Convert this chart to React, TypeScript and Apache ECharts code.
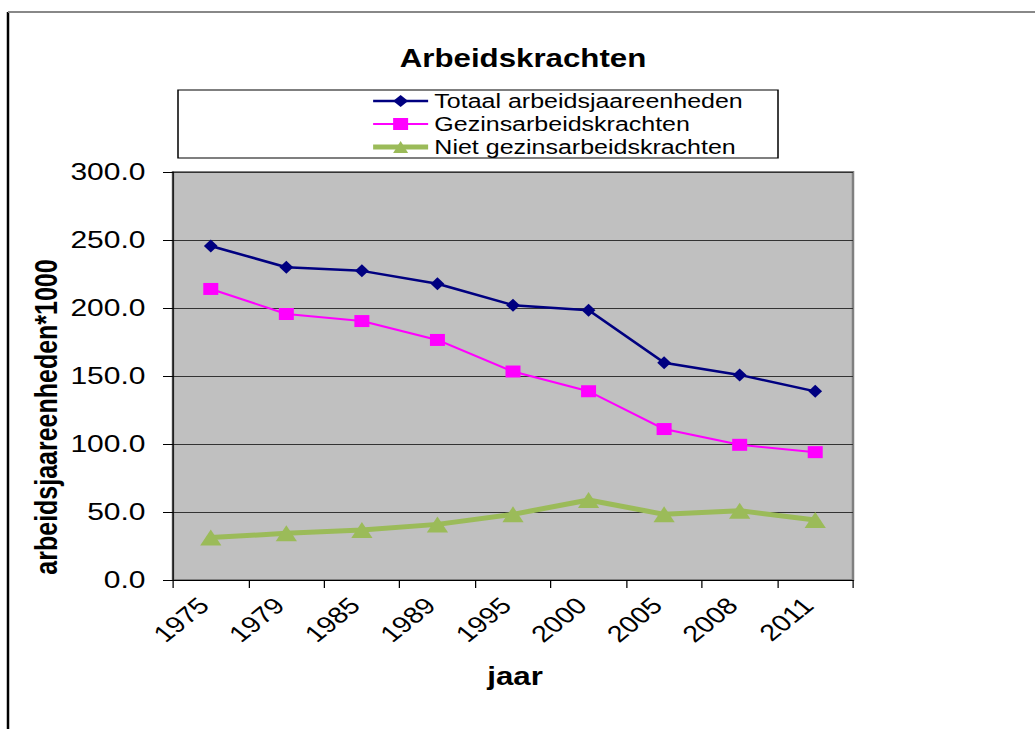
import React, { useEffect, useRef } from "react";
import * as echarts from "echarts";

const years = ["1975", "1979", "1985", "1989", "1995", "2000", "2005", "2008", "2011"];
const totaal = [245.6, 230.0, 227.3, 217.8, 202.1, 198.4, 159.8, 150.8, 138.7];
const gezins = [214.0, 195.6, 190.4, 176.5, 153.3, 138.8, 111.0, 99.4, 94.0];
const niet = [31.2, 34.3, 36.8, 40.9, 48.3, 58.8, 48.3, 51.0, 44.1];
const seriesNames = ["Totaal arbeidsjaareenheden", "Gezinsarbeidskrachten", "Niet gezinsarbeidskrachten"];

const STRETCH = 1.25;
const W = 1035 / STRETCH;
const H = 729;
const FONT = "Liberation Sans, Arial, sans-serif";

export default function App() {
  const ref = useRef<HTMLDivElement>(null);
  useEffect(() => {
    if (!ref.current) return;
    const chart = echarts.init(ref.current, undefined, { renderer: "svg" });
    chart.setOption({
      animation: false,
      backgroundColor: "#ffffff",
      textStyle: { fontFamily: FONT },
      graphic: [
        { type: "line", shape: { x1: 6.4, y1: 12, x2: 6.4, y2: H }, style: { stroke: "#000", lineWidth: 2 } },
        { type: "line", shape: { x1: 6.4, y1: 12, x2: W, y2: 12 }, style: { stroke: "#888", lineWidth: 2 } },
        {
          type: "text", x: 418.4, y: 58,
          style: { text: "Arbeidskrachten", font: `bold 25px ${FONT}`, fill: "#000", textAlign: "center", textVerticalAlign: "middle" },
        },
        {
          type: "rect", shape: { x: 142.4, y: 90, width: 480, height: 68 },
          style: { fill: "none", stroke: "#000", lineWidth: 1.2 },
        },
        {
          type: "text", x: 37, y: 417, rotation: Math.PI / 2,
          style: { text: "arbeidsjaareenheden*1000", font: `bold 25px ${FONT}`, fill: "#000", textAlign: "center", textVerticalAlign: "middle" },
        },
        {
          type: "text", x: 412, y: 676,
          style: { text: "jaar", font: `bold 25px ${FONT}`, fill: "#000", textAlign: "center", textVerticalAlign: "middle" },
        },
      ],
      legend: {
        orient: "vertical",
        left: 296,
        top: 91,
        padding: 0,
        itemWidth: 44,
        itemHeight: 15,
        itemGap: 3,
        textStyle: { fontSize: 20, color: "#000", fontFamily: FONT },
        data: [
          { name: seriesNames[0], lineStyle: { width: 2.5 } },
          { name: seriesNames[1], lineStyle: { width: 2 } },
          { name: seriesNames[2], lineStyle: { width: 5 } },
        ],
      },
      grid: {
        left: 138.4,
        right: W - 682.4,
        top: 172,
        bottom: 149,
        show: true,
        backgroundColor: "#c0c0c0",
        borderColor: "#808080",
        borderWidth: 2,
      },
      xAxis: {
        type: "category",
        data: years,
        boundaryGap: true,
        axisLine: { lineStyle: { color: "#000", width: 1 } },
        axisTick: { show: true, alignWithLabel: false, interval: 0, length: 8, lineStyle: { color: "#000" } },
        axisLabel: { rotate: 45, fontSize: 23, color: "#000", fontFamily: FONT, margin: 16, interval: 0, padding: [0, 8, 0, 0] },
        splitLine: { show: false },
      },
      yAxis: {
        type: "value",
        min: 0,
        max: 300,
        interval: 50,
        axisLine: { show: true, lineStyle: { color: "#000", width: 1 } },
        axisTick: { show: true, length: 8, lineStyle: { color: "#000" } },
        axisLabel: { fontSize: 24, color: "#000", fontFamily: FONT, margin: 22, formatter: (v: number) => v.toFixed(1) },
        splitLine: { show: true, lineStyle: { color: "#333", width: 1 } },
      },
      series: [
        {
          name: seriesNames[0], type: "line", data: totaal,
          symbol: "diamond", symbolSize: [11, 13],
          itemStyle: { color: "#000080" }, lineStyle: { color: "#000080", width: 2.5 },
        },
        {
          name: seriesNames[1], type: "line", data: gezins,
          symbol: "rect", symbolSize: 12,
          itemStyle: { color: "#ff00ff" }, lineStyle: { color: "#ff00ff", width: 2 },
        },
        {
          name: seriesNames[2], type: "line", data: niet,
          symbol: "triangle", symbolSize: [17, 16],
          itemStyle: { color: "#9bbb59" }, lineStyle: { color: "#9bbb59", width: 5 },
        },
      ],
    });
    return () => chart.dispose();
  }, []);
  return (
    <div
      ref={ref}
      style={{
        position: "absolute",
        left: 0,
        top: 0,
        width: W,
        height: H,
        transform: `scaleX(${STRETCH})`,
        transformOrigin: "0 0",
      }}
    />
  );
}
